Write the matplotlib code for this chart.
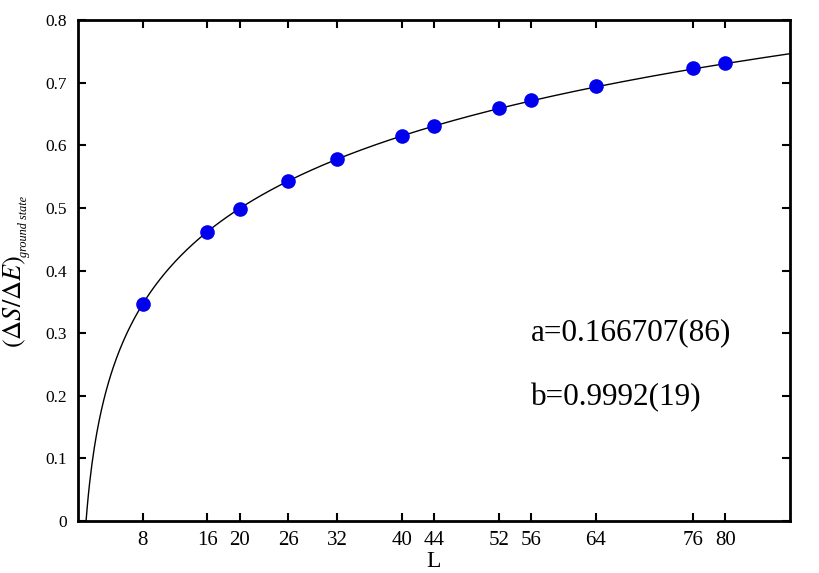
import numpy as np
import matplotlib; matplotlib.use("Agg")
import matplotlib.pyplot as plt

plt.rcParams['font.family'] = ['Liberation Serif', 'DejaVu Serif']
plt.rcParams['mathtext.fontset'] = 'stix'

# data
L = [8, 16, 20, 26, 32, 40, 44, 52, 56, 64, 76, 80]
ratio = [0.347, 0.462, 0.499, 0.543, 0.578, 0.615, 0.630, 0.659, 0.672, 0.694, 0.723, 0.731]

# fit parameters as printed on the chart: y = a*ln(b*L)
a_fit = 0.166707
b_fit = 0.9992

fig = plt.figure(figsize=(8.19, 5.73), dpi=100)
ax = fig.add_axes([0.0952, 0.0908, 0.8694, 0.8742])

Lfit = np.linspace(1.0 / b_fit, 88, 600)
ax.plot(Lfit, a_fit * np.log(b_fit * Lfit), color="black", lw=1.0)
ax.plot(L, ratio, "o", color="#0000ee", ms=9.5, mec="#0000ee")

ax.set_xlim(0, 88)
ax.set_ylim(0, 0.8)
ax.set_xticks(L)
ax.set_xticklabels([str(v) for v in L])
ax.set_yticks(np.arange(0, 0.81, 0.1))
ax.set_yticklabels(["0"] + ["%.1f" % v for v in np.arange(0.1, 0.81, 0.1)])
ax.tick_params(direction="in", top=True, right=True, length=6, width=1.5, pad=8)
ax.tick_params(axis="x", labelsize=15, pad=7)
ax.tick_params(axis="y", labelsize=12.5, pad=8)
for sp in ax.spines.values():
    sp.set_linewidth(2)

ax.set_xlabel("L", fontsize=17, labelpad=1)

# y label: main part plus a small italic subscript
fig.text(15 / 819, 1 - 301 / 573, r"$(\Delta S/\Delta E)$", fontsize=19,
         rotation=90, ha="center", va="center")
fig.text(24 / 819, 1 - 226 / 573, "ground state", fontsize=8.8, style="italic",
         rotation=90, ha="center", va="center")

ax.text(0.636, 0.375, "a=0.166707(86)", transform=ax.transAxes, fontsize=22.5, va="center")
ax.text(0.636, 0.247, "b=0.9992(19)", transform=ax.transAxes, fontsize=22.5, va="center")

fig.savefig("out.png", dpi=100)
